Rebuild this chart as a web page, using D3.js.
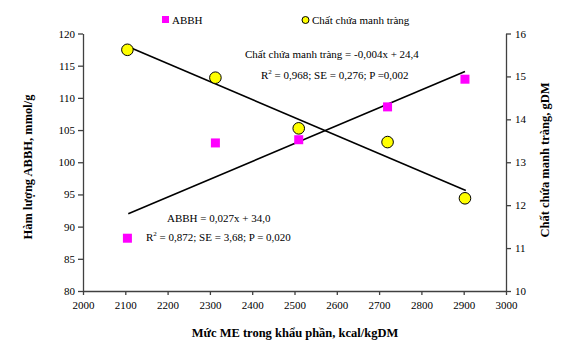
<!DOCTYPE html>
<html>
<head>
<meta charset="utf-8">
<script src="https://cdn.jsdelivr.net/npm/d3@7"></script>
<style>
  body { margin: 0; background: #fff; }
  text { font-family: "Liberation Serif", "Times New Roman", serif; }
</style>
</head>
<body>
<div id="chart"></div>
<script>
var width = 576;
var height = 345;

// data
var meLevels = [2105, 2313, 2510, 2720, 2903];
var abbh = [88.2, 103.0, 103.5, 108.6, 112.9];
var manhTrang = [15.62, 14.97, 13.79, 13.47, 12.16];

// trend line ends (x, value)
var abbhTrendX = [2107, 2903];
var abbhTrendY = [92.0, 114.1];
var manhTrendX = [2107, 2905];
var manhTrendY = [15.69, 12.34];

var xTicks = [2000, 2100, 2200, 2300, 2400, 2500, 2600, 2700, 2800, 2900, 3000];
var yLeftTicks = [80, 85, 90, 95, 100, 105, 110, 115, 120];
var yRightTicks = [10, 11, 12, 13, 14, 15, 16];

var svg = d3.select("#chart")
            .append("svg")
            .attr("width", width)
            .attr("height", height);

var x = d3.scaleLinear().domain([2000, 3000]).range([83, 506]);
var yL = d3.scaleLinear().domain([80, 120]).range([291, 33.5]);
var yR = d3.scaleLinear().domain([10, 16]).range([291, 33.5]);

var axisColor = "#404040";
var fmt = d3.format("d");

function styleAxis(g){
    g.selectAll("path, line").attr("stroke", axisColor).attr("stroke-width", 1.3);
    g.selectAll("text")
        .style("font-family", "Liberation Serif, serif")
        .style("font-size", "11px")
        .attr("fill", "#000");
}

svg.append("g")
    .attr("transform", "translate(0,291)")
    .call(d3.axisBottom(x).tickValues(xTicks).tickFormat(fmt).tickSize(4).tickSizeOuter(0).tickPadding(6))
    .call(styleAxis);

svg.append("g")
    .attr("transform", "translate(83,0)")
    .call(d3.axisLeft(yL).tickValues(yLeftTicks).tickFormat(fmt).tickSize(5).tickSizeOuter(0).tickPadding(3))
    .call(styleAxis);

svg.append("g")
    .attr("transform", "translate(506,0)")
    .call(d3.axisRight(yR).tickValues(yRightTicks).tickFormat(fmt).tickSize(5).tickSizeOuter(0).tickPadding(4))
    .call(styleAxis);

// trend lines
var line = d3.line();
svg.append("path")
    .attr("d", line(abbhTrendX.map(function(d, i){ return [x(d), yL(abbhTrendY[i])]; })))
    .attr("stroke", "#000").attr("stroke-width", 1.6).attr("fill", "none");
svg.append("path")
    .attr("d", line(manhTrendX.map(function(d, i){ return [x(d), yR(manhTrendY[i])]; })))
    .attr("stroke", "#000").attr("stroke-width", 1.6).attr("fill", "none");

// ABBH squares
svg.selectAll("rect.abbh")
    .data(meLevels)
    .enter()
    .append("rect")
    .attr("class", "abbh")
    .attr("x", function(d){ return x(d) - 4.5; })
    .attr("y", function(d, i){ return yL(abbh[i]) - 4.5; })
    .attr("width", 9)
    .attr("height", 9)
    .attr("fill", "#ff00ff");

// circles
svg.selectAll("circle.manh")
    .data(meLevels)
    .enter()
    .append("circle")
    .attr("class", "manh")
    .attr("cx", function(d){ return x(d); })
    .attr("cy", function(d, i){ return yR(manhTrang[i]); })
    .attr("r", 5.8)
    .attr("fill", "#ffff00")
    .attr("stroke", "#000")
    .attr("stroke-width", 1);

// legend
svg.append("rect").attr("x", 162).attr("y", 16).attr("width", 7).attr("height", 7).attr("fill", "#ff00ff");
svg.append("text").attr("x", 172).attr("y", 24).style("font-size", "11px").text("ABBH");
svg.append("circle").attr("cx", 305.5).attr("cy", 20).attr("r", 3.5)
    .attr("fill", "#ffff00").attr("stroke", "#000").attr("stroke-width", 1);
svg.append("text").attr("x", 312).attr("y", 24).style("font-size", "11px").text("Chất chứa manh tràng");

// equations
function r2Text(xp, yp, rest){
    var t = svg.append("text").attr("x", xp).attr("y", yp).style("font-size", "11px");
    t.append("tspan").text("R");
    t.append("tspan").attr("dy", -5).style("font-size", "7px").text("2");
    t.append("tspan").attr("dy", 5).text(rest);
}

svg.append("text").attr("x", 245).attr("y", 58).style("font-size", "11px")
    .text("Chất chứa manh tràng = -0,004x + 24,4");
r2Text(261, 79, " = 0,968; SE = 0,276; P =0,002");

svg.append("text").attr("x", 167).attr("y", 222).style("font-size", "11px")
    .text("ABBH = 0,027x + 34,0");
r2Text(146, 241, " = 0,872; SE = 3,68; P = 0,020");

// axis titles
svg.append("text")
    .attr("x", 295).attr("y", 337)
    .attr("text-anchor", "middle")
    .style("font-size", "12.5px").style("font-weight", "bold")
    .text("Mức ME trong khẩu phần, kcal/kgDM");

svg.append("text")
    .attr("transform", "translate(32,167) rotate(-90)")
    .attr("text-anchor", "middle")
    .style("font-size", "12.5px").style("font-weight", "bold")
    .text("Hàm lượng ABBH, mmol/g");

svg.append("text")
    .attr("transform", "translate(549,160) rotate(-90)")
    .attr("text-anchor", "middle")
    .style("font-size", "12.5px").style("font-weight", "bold")
    .text("Chất chứa manh tràng, gDM");
</script>
</body>
</html>
